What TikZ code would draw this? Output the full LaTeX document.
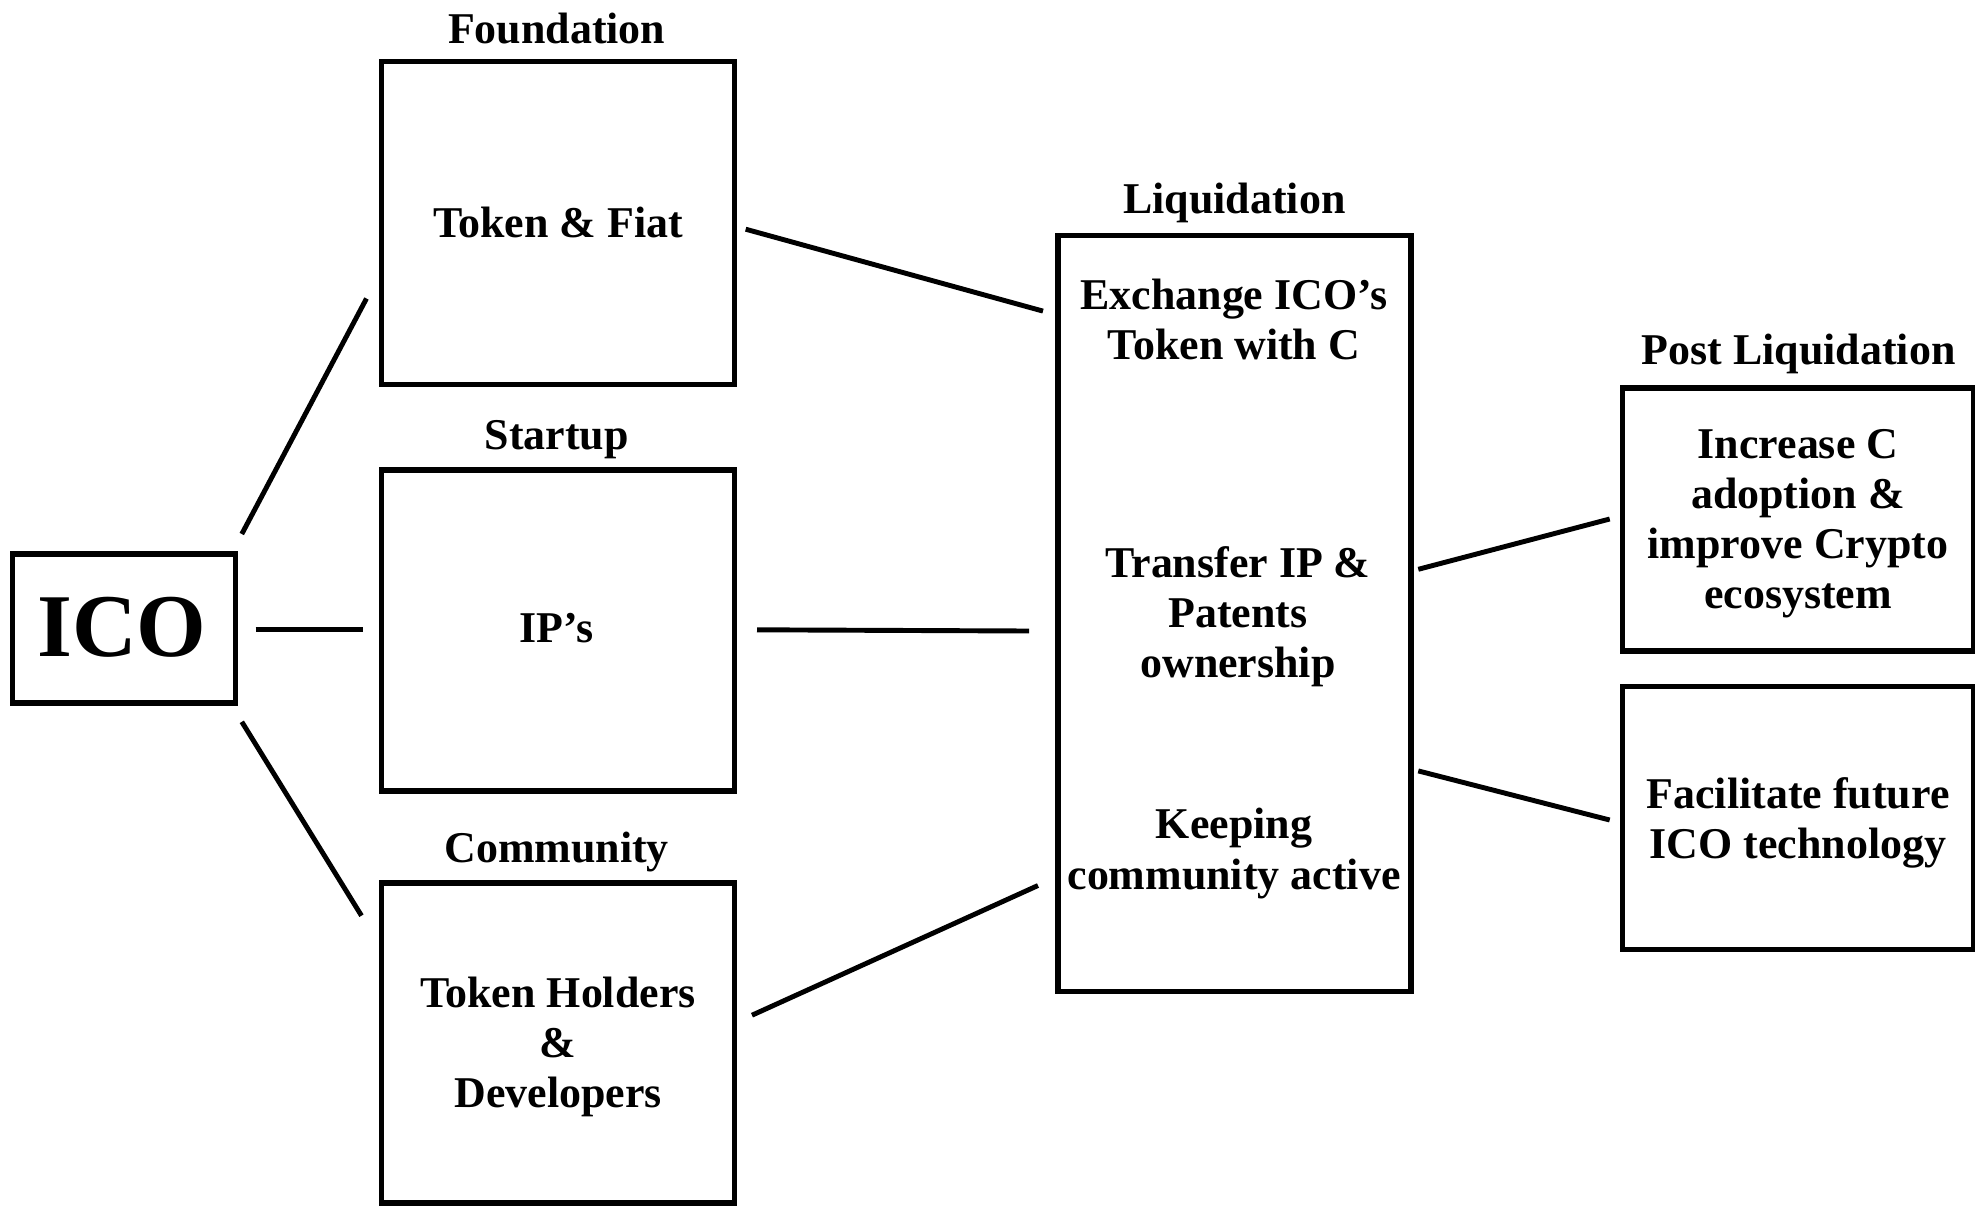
\documentclass[tikz,border=0pt]{standalone}
\usepackage{fontspec}
\setmainfont{Liberation Serif}
\begin{document}
\begin{tikzpicture}[x=0.02cm,y=-0.02cm,
  every node/.style={font=\bfseries\fontsize{25}{28.5}\selectfont, inner sep=0pt, outer sep=0pt},
  box/.style={draw=black, line width=3pt},
  txt/.style={align=center},
  conn/.style={draw=black, line width=2.8pt}]
\useasboundingbox (0,0) rectangle (1975,1205);
% ICO
\node[box, minimum width=4.46cm, minimum height=2.98cm] (ico) at (124,628.5) {};
\node[font=\bfseries\fontsize{51}{56}\selectfont] (icot) at (122,627) {ICO};
% left column
\node[box, minimum width=7.05cm, minimum height=6.45cm] (fnd) at (558,223) {};
\node[box, minimum width=7.05cm, minimum height=6.42cm] (stp) at (558,630.4) {};
\node[box, minimum width=7.05cm, minimum height=6.40cm] (com) at (558,1043) {};
\node (fndl) at (556.7,28.5) {Foundation};
\node (stpl) at (556.7,439.5) {Startup};
\node (coml) at (556.7,852) {Community};
\node[txt] (fndt) at (558,222) {Token \& Fiat};
\node[txt] (stpt) at (556.7,628.5) {IP’s};
\node[txt] (comt) at (558,1046.5) {Token Holders\\\&\\Developers};
% Liquidation
\node[box, minimum width=7.06cm, minimum height=15.12cm] (liq) at (1234.5,613.4) {};
\node (liql) at (1234.4,202.5) {Liquidation};
\node[txt] (liqa) at (1234,319.5) {Exchange ICO’s\\Token with C};
\node[txt] (liqb) at (1238,616.5) {Transfer IP \&\\Patents\\ownership};
\node[txt] (liqc) at (1234,853.5) {Keeping\\community active};
% Post Liquidation
\node[box, minimum width=7.03cm, minimum height=5.26cm] (pla) at (1798,519.5) {};
\node[box, minimum width=7.03cm, minimum height=5.26cm] (plb) at (1798,818) {};
\node (pll) at (1798.7,353.5) {Post Liquidation};
\node[txt] (plat) at (1798,523.5) {Increase C\\adoption \&\\improve Crypto\\ecosystem};
\node[txt] (plbt) at (1798,823) {Facilitate future\\ICO technology};
% connector ends
\coordinate (c1a) at (241.8,534);   \coordinate (c1b) at (366.5,298.5);
\coordinate (c2a) at (255.7,629.8); \coordinate (c2b) at (362.8,629.8);
\coordinate (c3a) at (241.8,721.8); \coordinate (c3b) at (361.5,915.7);
\coordinate (c4a) at (745.7,229.2); \coordinate (c4b) at (1043,311.1);
\coordinate (c5a) at (757,629.8);   \coordinate (c5b) at (1029,631);
\coordinate (c6a) at (752,1015.2);  \coordinate (c6b) at (1038,885.5);
\coordinate (c7a) at (1418.3,569.3); \coordinate (c7b) at (1609.7,519);
\coordinate (c8a) at (1418.3,770.9); \coordinate (c8b) at (1609.7,820);
\draw[conn] (c1a) -- (c1b);
\draw[conn] (c2a) -- (c2b);
\draw[conn] (c3a) -- (c3b);
\draw[conn] (c4a) -- (c4b);
\draw[conn] (c5a) -- (c5b);
\draw[conn] (c6a) -- (c6b);
\draw[conn] (c7a) -- (c7b);
\draw[conn] (c8a) -- (c8b);
\end{tikzpicture}
\end{document}
